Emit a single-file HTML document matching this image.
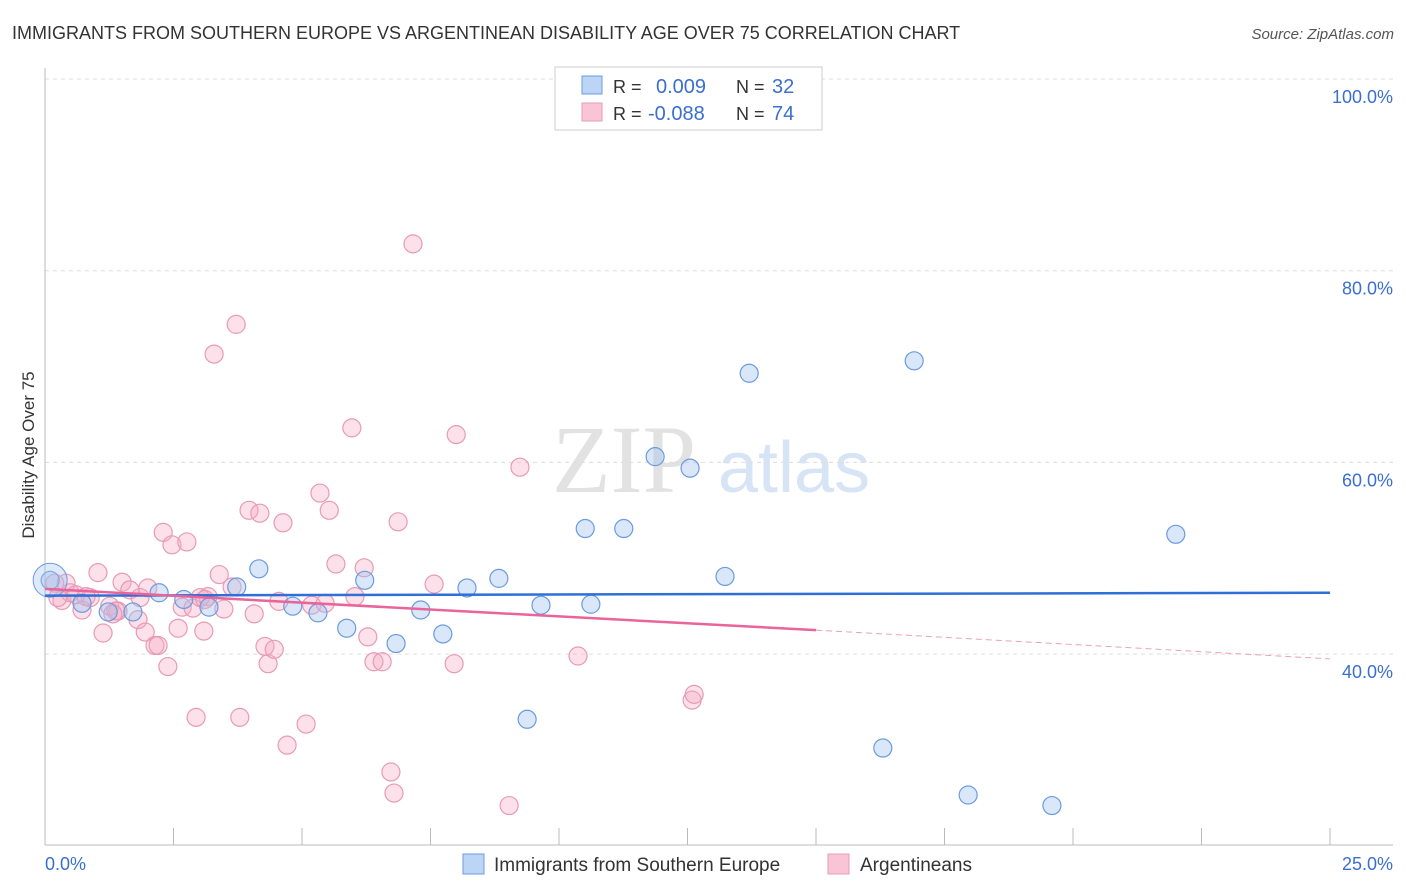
<!DOCTYPE html>
<html><head><meta charset="utf-8"><style>
body{margin:0;background:#fff;font-family:"Liberation Sans",sans-serif;}
svg{display:block}
</style></head><body>
<svg id="chart" width="1406" height="892" xmlns="http://www.w3.org/2000/svg">
<text x="12" y="39" font-size="18" fill="#333">IMMIGRANTS FROM SOUTHERN EUROPE VS ARGENTINEAN DISABILITY AGE OVER 75 CORRELATION CHART</text>
<text x="1394" y="39" font-size="15" fill="#555" font-style="italic" text-anchor="end">Source: ZipAtlas.com</text>
<g>
<text x="552" y="492" font-size="96" font-family="Liberation Serif,serif" fill="#e2e2e2">ZIP</text>
<text x="718" y="492" font-size="72" fill="#d6e4f5">atlas</text>
</g>
<g id="grid"></g>
<g id="axes"></g>
<g id="lines"></g>
<g id="pts"></g>
<text x="34" y="455" font-size="17" fill="#333" text-anchor="middle" transform="rotate(-90 34 455)">Disability Age Over 75</text>
<text x="45" y="870" font-size="18" fill="#3a6fd0">0.0%</text>
<text x="1393" y="870" font-size="18" fill="#3a6fd0" text-anchor="end">25.0%</text>
<g>
<rect x="555" y="67" width="267" height="63" fill="#fff" stroke="#ccc"/>
<rect x="582" y="76" width="20" height="18" fill="#bcd4f5" stroke="#6a9be0"/>
<rect x="582" y="103" width="20" height="18" fill="#f9c5d6" stroke="#e89ab4"/>
<text x="613" y="93" font-size="18" fill="#333">R = </text><text x="656" y="93" font-size="20" fill="#3a6fd0">0.009</text>
<text x="736" y="93" font-size="18" fill="#333">N = </text><text x="772" y="93" font-size="20" fill="#3a6fd0">32</text>
<text x="613" y="120" font-size="18" fill="#333">R = </text><text x="648" y="120" font-size="20" fill="#3a6fd0">-0.088</text>
<text x="736" y="120" font-size="18" fill="#333">N = </text><text x="772" y="120" font-size="20" fill="#3a6fd0">74</text>
</g>
<g>
<rect x="463" y="854" width="21" height="20" fill="#bcd4f5" stroke="#6a9be0"/>
<text x="494" y="871" font-size="19" fill="#333">Immigrants from Southern Europe</text>
<rect x="828" y="854" width="21" height="20" fill="#f9c5d6" stroke="#e89ab4"/>
<text x="860" y="871" font-size="19" fill="#333">Argentineans</text>
</g>
</svg>
<script>
const yTicks=[100,80,60,40];
const yTickLabels=["100.0%","80.0%","60.0%","40.0%"];
const xTicks=[0,2.5,5,7.5,10,12.5,15,17.5,20,22.5,25];
const blueX=[0.10,0.72,1.23,1.71,2.22,2.70,3.19,3.73,4.16,4.82,5.31,5.87,6.22,6.83,7.31,7.74,8.21,8.83,9.38,9.65,10.51,10.62,11.26,11.87,12.55,13.23,13.70,16.30,16.91,17.96,19.59,22.00];
const blueY=[47.7,45.3,44.4,44.4,46.4,45.7,44.9,47.0,48.9,45.0,44.3,42.7,47.7,41.1,44.6,42.1,46.9,47.9,33.2,45.1,53.1,45.2,53.1,60.6,59.4,48.1,69.3,30.2,70.6,25.3,24.2,52.5];
const pinkX=[0.19,0.33,0.49,0.72,0.88,1.03,1.13,1.26,1.42,1.50,1.65,1.81,1.95,2.00,2.14,2.20,2.30,2.39,2.47,2.59,2.67,2.76,2.88,2.94,3.09,3.17,3.29,3.39,3.48,3.64,3.72,3.79,3.97,4.07,4.18,4.28,4.34,4.46,4.55,4.63,4.71,5.08,5.19,5.35,5.45,5.53,5.66,5.97,6.03,6.21,6.28,6.40,6.56,6.73,6.79,6.87,7.16,7.57,7.96,8.00,9.03,9.24,10.37,12.59,12.63,0.41,0.60,0.80,1.38,1.85,3.02,3.11,0.25,1.32];
const pinkY=[47.4,45.6,46.4,44.6,45.9,48.5,42.2,45.0,44.5,47.5,46.7,43.6,42.3,46.9,40.9,40.9,52.7,38.7,51.4,42.7,44.9,51.7,44.8,33.4,42.4,46.0,71.3,48.3,44.7,47.0,74.4,33.4,55.0,44.2,54.7,40.8,39.0,40.5,45.5,53.7,30.5,32.7,45.1,56.8,45.3,55.0,49.4,63.6,46.0,49.0,41.8,39.2,39.2,27.7,25.5,53.8,82.8,47.3,39.0,62.9,24.2,59.5,39.8,35.2,35.8,47.4,46.2,46.0,44.5,45.9,45.9,45.7,45.9,44.2];
const blueTrend=[46.1,46.4];
const pinkTrend=[46.8,42.5,39.5];
const X=v=>45+v/25*1285, Y=v=>79+(100-v)/20*191.7;
const NS="http://www.w3.org/2000/svg";
function mk(p,t,a){const e=document.createElementNS(NS,t);for(const k in a)e.setAttribute(k,a[k]);document.getElementById(p).appendChild(e);return e;}
yTicks.forEach((t,i)=>{
 const l=mk('grid','line',{x1:45,x2:1393,y1:Y(t),y2:Y(t),stroke:'#ddd','stroke-dasharray':'4,4'});
 
 
 const tx=mk('grid','text',{x:1393,y:Y(t)+24,'font-size':18,fill:'#3a6fd0','text-anchor':'end'});
 tx.textContent=yTickLabels[i];
 
 
});
let a=mk('axes','line',{x1:45,x2:45,y1:68,y2:845,stroke:'#bbb'});


a=mk('axes','line',{x1:45,x2:1393,y1:845,y2:845,stroke:'#bbb'});


xTicks.forEach(t=>{
 const l=mk('axes','line',{x1:X(t),x2:X(t),y1:828,y2:845,stroke:'#bbb'});
 
 
});
function dots(xs,ys,fill,stroke,name){
 xs.forEach((x,i)=>{
  const c=mk('pts','circle',{cx:X(x),cy:Y(ys[i]),r:9,fill:fill,stroke:stroke,'stroke-width':1.2});
  
  
 });
}
dots(pinkX,pinkY,'rgba(245,170,195,0.35)','#e89ab4','argentinean-point');
dots(blueX,blueY,'rgba(160,195,240,0.4)','#6a9be0','immigrant-point');
let big=mk('pts','circle',{cx:X(0.1),cy:Y(47.7),r:17,fill:'rgba(160,195,240,0.35)',stroke:'#6a9be0'});


let L=mk('lines','line',{x1:X(0),x2:X(25),y1:Y(blueTrend[0]),y2:Y(blueTrend[1]),stroke:'#2f6fd6','stroke-width':2.5});


L=mk('lines','line',{x1:X(0),x2:X(15),y1:Y(pinkTrend[0]),y2:Y(pinkTrend[1]),stroke:'#e8649a','stroke-width':2.5});


L=mk('lines','line',{x1:X(15),x2:X(25),y1:Y(pinkTrend[1]),y2:Y(pinkTrend[2]),stroke:'#e8a0bc','stroke-width':1,'stroke-dasharray':'6,4'});


document.getElementById('chart').appendChild(document.getElementById('lines'));
</script>
</body></html>
